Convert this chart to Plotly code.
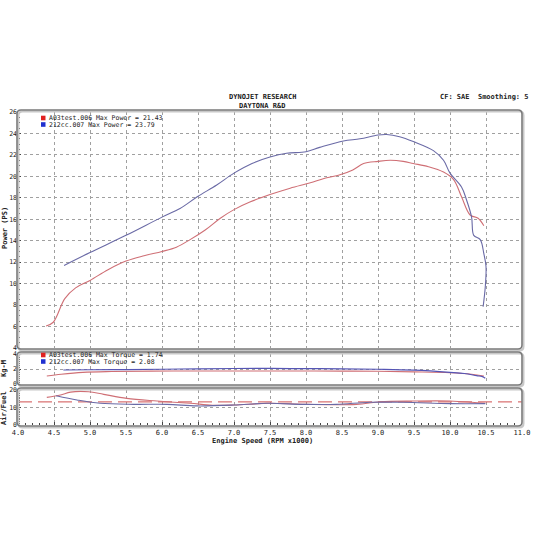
import plotly.graph_objects as go

# ---------------- data ----------------
red_power_rpm = [4.39, 4.49, 4.65, 4.8, 5.0, 5.25, 5.5, 5.75, 6.0, 6.2, 6.39, 6.6, 6.81, 7.0, 7.22,
                 7.5, 7.78, 8.06, 8.25, 8.45, 8.65, 8.8, 9.0, 9.17, 9.35, 9.49, 9.7, 9.91, 10.05,
                 10.16, 10.28, 10.39, 10.47]
red_power = [6.05, 6.4, 8.6, 9.6, 10.3, 11.3, 12.1, 12.6, 13.0, 13.4, 14.1, 15.0, 16.1, 16.9, 17.6,
             18.3, 18.9, 19.4, 19.8, 20.1, 20.6, 21.2, 21.4, 21.5, 21.4, 21.2, 20.9, 20.4, 19.7,
             18.1, 16.4, 16.1, 15.4]

blue_power_rpm = [4.64, 5.0, 5.5, 6.0, 6.25, 6.49, 6.76, 7.0, 7.25, 7.5, 7.73, 8.0, 8.19, 8.52, 8.75,
                  9.0, 9.12, 9.3, 9.49, 9.77, 9.91, 10.0, 10.16, 10.23, 10.30, 10.33, 10.42, 10.47,
                  10.5, 10.49, 10.46]
blue_power = [11.7, 12.9, 14.5, 16.2, 17.0, 18.1, 19.2, 20.3, 21.2, 21.8, 22.15, 22.3, 22.7, 23.3, 23.5,
              23.85, 23.9, 23.7, 23.25, 22.4, 21.5, 20.3, 19.0, 17.8, 16.2, 14.5, 14.1, 12.8,
              11.6, 9.7, 7.85]

red_torque_rpm = [4.40, 4.6, 4.9, 5.3, 5.84, 6.5, 7.0, 7.5, 8.0, 8.5, 9.0, 9.5, 10.0, 10.3, 10.47]
red_torque = [1.07, 1.3, 1.55, 1.66, 1.72, 1.74, 1.74, 1.74, 1.73, 1.72, 1.70, 1.62, 1.50, 1.30, 1.05]

blue_torque_rpm = [4.63, 5.0, 5.5, 6.0, 6.5, 7.0, 7.5, 8.0, 8.5, 9.0, 9.5, 10.0, 10.2, 10.37, 10.45, 10.49]
blue_torque = [1.87, 1.90, 1.93, 1.97, 2.03, 2.07, 2.08, 2.05, 2.03, 1.97, 1.85, 1.56, 1.40, 1.11, 0.98, 0.76]

red_afr_rpm = [4.40, 4.59, 4.73, 4.98, 5.19, 5.51, 5.93, 6.39, 6.7, 7.0, 7.5, 8.0, 8.7, 9.03, 9.5,
               10.0, 10.3, 10.49]
red_afr = [15.8, 17.1, 18.8, 19.0, 17.5, 15.2, 13.7, 12.4, 11.3, 11.4, 12.4, 11.8, 11.8, 13.3, 13.7,
           13.7, 13.0, 12.4]

blue_afr_rpm = [4.53, 4.82, 5.14, 5.61, 6.07, 6.49, 7.0, 7.46, 7.96, 8.42, 8.89, 9.35, 10.0, 10.49]
blue_afr = [16.7, 14.3, 12.4, 11.8, 11.8, 10.9, 11.4, 12.4, 11.8, 11.8, 13.0, 13.0, 12.2, 12.2]

afr_target_rpm = [4.0, 11.0]
afr_target = [13.2, 13.2]

x_ticks = [4.0, 4.5, 5.0, 5.5, 6.0, 6.5, 7.0, 7.5, 8.0, 8.5, 9.0, 9.5, 10.0, 10.5, 11.0]
power_ticks = [4, 6, 8, 10, 12, 14, 16, 18, 20, 22, 24, 26]
torque_ticks = [0, 2, 4]
afr_ticks = [0, 10, 20]

red_name = "A03test.006"
blue_name = "212cc.007"
red_max_power, blue_max_power = "21.43", "23.79"
red_max_torque, blue_max_torque = "1.74", "2.08"

# ---------------- style ----------------
RED = "#cf6f75"
BLUE = "#6a6aa6"
FONT = "DejaVu Sans Mono"
W = H = 533


def px(xp):
    return xp / W


def py(yp):
    return 1 - yp / H


fig = go.Figure()
fig.add_trace(go.Scatter(x=red_power_rpm, y=red_power, mode="lines", line=dict(color=RED, width=1.1),
                         line_shape="spline", xaxis="x", yaxis="y", showlegend=False))
fig.add_trace(go.Scatter(x=blue_power_rpm, y=blue_power, mode="lines", line=dict(color=BLUE, width=1.1),
                         line_shape="spline", xaxis="x", yaxis="y", showlegend=False))
fig.add_trace(go.Scatter(x=red_torque_rpm, y=red_torque, mode="lines", line=dict(color=RED, width=1.1),
                         line_shape="spline", xaxis="x2", yaxis="y2", showlegend=False))
fig.add_trace(go.Scatter(x=blue_torque_rpm, y=blue_torque, mode="lines", line=dict(color="#5555b5", width=1.2),
                         line_shape="spline", xaxis="x2", yaxis="y2", showlegend=False))
fig.add_trace(go.Scatter(x=afr_target_rpm, y=afr_target, mode="lines",
                         line=dict(color="#d05050", width=1, dash="14px,6px"),
                         xaxis="x3", yaxis="y3", showlegend=False))
fig.add_trace(go.Scatter(x=red_afr_rpm, y=red_afr, mode="lines", line=dict(color=RED, width=1.1),
                         line_shape="spline", xaxis="x3", yaxis="y3", showlegend=False))
fig.add_trace(go.Scatter(x=blue_afr_rpm, y=blue_afr, mode="lines", line=dict(color=BLUE, width=1.1),
                         line_shape="spline", xaxis="x3", yaxis="y3", showlegend=False))

xdom = [px(18), px(522)]
grid = dict(showgrid=True, gridcolor="#a0a0a0", griddash="dot", gridwidth=1, zeroline=False, automargin=False)
tickfont = dict(family=FONT, size=7, color="#222")
ytickfont = dict(family=FONT, size=6.5, color="#222")
minor_common = dict(ticks="inside", ticklen=2, tickcolor="#444", showgrid=False)

xcommon = dict(range=[4, 11], domain=xdom, tickvals=x_ticks, **grid)
fig.update_layout(
    width=W, height=H, margin=dict(l=0, r=0, t=0, b=0, autoexpand=False),
    paper_bgcolor="white", plot_bgcolor="white",
    xaxis=dict(anchor="y", showticklabels=False, ticks="", **xcommon),
    xaxis2=dict(anchor="y2", showticklabels=False, ticks="", matches="x", **xcommon),
    xaxis3=dict(anchor="y3", showticklabels=True, ticktext=[f"{v:.1f}" for v in x_ticks],
                ticks="inside", ticklen=3, tickcolor="#444", tickfont=tickfont, ticklabelstandoff=2,
                minor=dict(dtick=0.1, **minor_common), matches="x", **xcommon),
    yaxis=dict(domain=[py(348), py(112)], range=[4, 26], tickvals=power_ticks, ticks="inside",
               ticklen=3, tickcolor="#444", tickfont=ytickfont,
               minor=dict(dtick=0.5, **minor_common), **grid),
    yaxis2=dict(domain=[py(384), py(354)], range=[0, 4], tickvals=torque_ticks, ticks="inside",
                ticklen=3, tickcolor="#444", tickfont=ytickfont,
                minor=dict(dtick=0.25, **minor_common), **grid),
    yaxis3=dict(domain=[py(425), py(390)], range=[0, 20], tickvals=afr_ticks, ticks="inside",
                ticklen=3, tickcolor="#444", tickfont=ytickfont,
                minor=dict(dtick=1, **minor_common), **grid),
)


def rounded(x0, y0, x1, y1, r=4):
    X0, X1 = px(x0), px(x1)
    Y0, Y1 = py(y0), py(y1)
    R = r / W
    return (f"M {X0+R},{Y0} L {X1-R},{Y0} Q {X1},{Y0} {X1},{Y0-R} L {X1},{Y1+R} Q {X1},{Y1} {X1-R},{Y1} "
            f"L {X0+R},{Y1} Q {X0},{Y1} {X0},{Y1+R} L {X0},{Y0-R} Q {X0},{Y0} {X0+R},{Y0} Z")


shapes = []
for (a, b, c, d) in [(17, 110, 522, 349), (17, 352, 522, 385), (17, 388, 522, 426)]:
    shapes.append(dict(type="path", xref="paper", yref="paper", path=rounded(a + 1.5, b + 1.5, c + 1.5, d + 1.5),
                       line=dict(color="#c8c8c8", width=2)))
    shapes.append(dict(type="path", xref="paper", yref="paper", path=rounded(a, b, c, d),
                       line=dict(color="#7a7a7a", width=1.6)))
# legend squares
for (yy, col) in [(118, "#e02020"), (124.5, "#2030d0"), (355, "#e02020"), (361.5, "#2030d0")]:
    shapes.append(dict(type="rect", xref="paper", yref="paper", x0=px(41), x1=px(45.5),
                       y0=py(yy + 2.3), y1=py(yy - 2.3), fillcolor=col, line=dict(width=0)))
fig.update_layout(shapes=shapes)

ann = []


def text(x, y, s, size=7, xanchor="left", angle=0, bold=True):
    ann.append(dict(x=px(x), y=py(y), xref="paper", yref="paper", text=f"<b>{s}</b>" if bold else s,
                    showarrow=False, xanchor=xanchor, yanchor="middle", textangle=angle,
                    font=dict(family=FONT, size=size, color="#222")))


text(262, 97, "DYNOJET RESEARCH", xanchor="center")
text(262, 105.5, "DAYTONA R&amp;D", xanchor="center")
text(531, 97, "CF: SAE  Smoothing: 5", xanchor="right")
text(46.5, 118, f"{red_name} Max Power = {red_max_power}", size=6.5, bold=False)
text(46.5, 124.5, f"{blue_name} Max Power = {blue_max_power}", size=6.5, bold=False)
text(46.5, 355, f"{red_name} Max Torque = {red_max_torque}", size=6.5, bold=False)
text(46.5, 361.5, f"{blue_name} Max Torque = {blue_max_torque}", size=6.5, bold=False)
text(5, 228, "Power (PS)", angle=-90, xanchor="center")
text(4, 369, "Kg-M", angle=-90, xanchor="center")
text(4, 408, "Air/Fuel", angle=-90, xanchor="center")
text(262, 440.5, "Engine Speed (RPM x1000)", xanchor="center")
fig.update_layout(annotations=ann)

# remove the browser's default body margin so the 533x533 figure fills the window exactly
fig.write_html("out.html", config={"displayModeBar": False},
               post_script="document.body.style.margin='0';document.body.style.overflow='hidden';")
